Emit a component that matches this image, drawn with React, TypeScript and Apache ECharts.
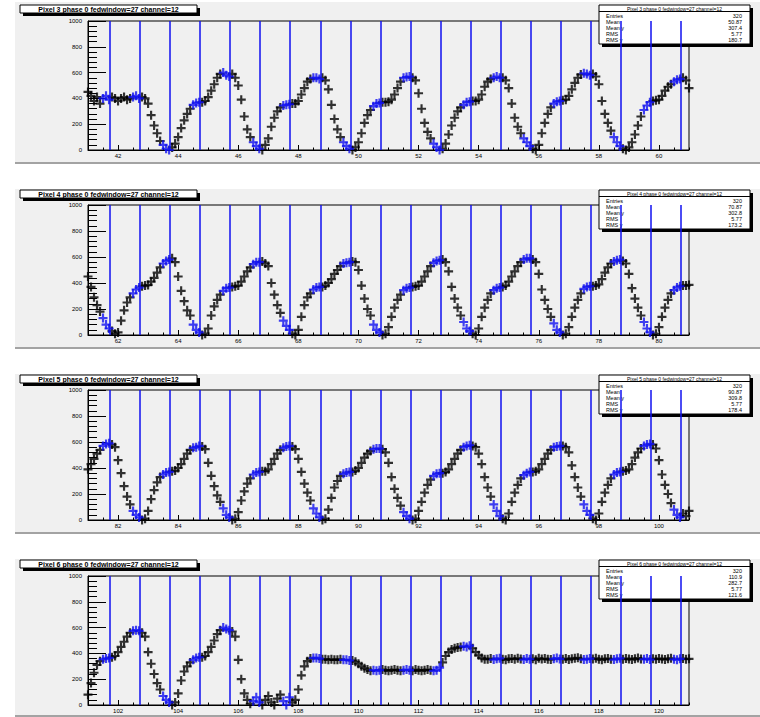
import React, { useEffect, useRef } from 'react';
import * as echarts from 'echarts';

// ---------- data ----------
const panelTitles = [
  'Pixel 3 phase 0 fedwindow=27 channel=12',
  'Pixel 4 phase 0 fedwindow=27 channel=12',
  'Pixel 5 phase 0 fedwindow=27 channel=12',
  'Pixel 6 phase 0 fedwindow=27 channel=12',
];
const xStart = [41, 61, 81, 101];
const xEnd = [61, 81, 101, 121];
const xStep = 0.1;

const xTickLabels1 = [42, 44, 46, 48, 50, 52, 54, 56, 58, 60];
const xTickLabels2 = [62, 64, 66, 68, 70, 72, 74, 76, 78, 80];
const xTickLabels3 = [82, 84, 86, 88, 90, 92, 94, 96, 98, 100];
const xTickLabels4 = [102, 104, 106, 108, 110, 112, 114, 116, 118, 120];

// offsets (from each panel's first x) of the blue vertical lines
const blueLineOffsets = [0.73, 1.73, 2.73, 3.73, 4.73, 5.73, 6.73, 7.73, 8.73, 9.73,
  10.73, 11.73, 12.73, 13.73, 14.73, 15.73, 16.73, 17.73, 18.73, 19.73];

// samples every 0.1 starting at xStart
const samples1 = [
  450, 420, 380, 410, 360, 400, 420, 390, 410, 400,
  380, 400, 410, 390, 400, 410, 420, 400, 410, 400,
  360, 270, 190, 130, 70, 40, 10, 0, 20, 50,
  100, 170, 230, 280, 320, 350, 365, 370, 370, 380,
  410, 460, 510, 560, 590, 600, 580, 570, 590, 560,
  500, 390, 260, 160, 100, 60, 30, 10, 0, 40,
  90, 180, 250, 300, 330, 345, 350, 355, 360, 360,
  380, 430, 480, 530, 550, 560, 560, 550, 560, 540,
  470, 350, 240, 160, 100, 60, 30, 10, 0, 20,
  60, 130, 210, 270, 310, 340, 360, 365, 370, 370,
  375, 390, 430, 480, 530, 560, 565, 570, 560, 540,
  440, 320, 210, 140, 90, 50, 20, 0, 10, 50,
  120, 190, 250, 300, 330, 350, 370, 375, 380, 380,
  390, 430, 490, 530, 550, 560, 570, 560, 560, 540,
  480, 360, 250, 180, 130, 90, 60, 30, 10, 0,
  40, 130, 210, 280, 330, 360, 375, 380, 385, 390,
  420, 470, 520, 560, 585, 595, 590, 580, 590, 570,
  510, 380, 280, 210, 150, 100, 60, 30, 10, 0,
  20, 60, 120, 190, 260, 310, 345, 370, 380, 385,
  390, 420, 460, 490, 510, 530, 545, 550, 560, 540,
  480,
];
const samples2 = [
  450, 370, 290, 230, 180, 130, 80, 50, 30, 10,
  20, 110, 190, 250, 290, 320, 350, 365, 375, 380,
  385, 410, 440, 480, 520, 550, 570, 580, 590, 560,
  450, 340, 260, 190, 150, 80, 40, 20, 0, 10,
  50, 150, 220, 270, 310, 340, 360, 365, 370, 375,
  380, 410, 450, 490, 520, 545, 560, 560, 565, 550,
  530, 400, 310, 230, 170, 110, 70, 40, 10, 0,
  40, 140, 230, 290, 320, 350, 365, 370, 370, 380,
  400, 430, 470, 500, 530, 550, 555, 560, 565, 560,
  500, 380, 280, 200, 150, 80, 40, 20, 0, 10,
  60, 140, 210, 270, 310, 345, 360, 365, 370, 375,
  380, 410, 450, 490, 530, 555, 570, 575, 580, 560,
  490, 370, 280, 210, 150, 100, 50, 30, 10, 0,
  50, 140, 210, 270, 320, 345, 360, 365, 370, 380,
  410, 450, 490, 530, 560, 580, 590, 590, 580, 560,
  470, 350, 270, 200, 140, 90, 40, 20, 0, 10,
  60, 140, 210, 270, 320, 355, 370, 375, 375, 380,
  390, 430, 480, 520, 550, 565, 575, 580, 570, 550,
  470, 360, 280, 210, 150, 100, 50, 20, 0, 10,
  60, 140, 210, 270, 320, 345, 365, 375, 380, 380,
  385,
];
const samples3 = [
  390, 430, 470, 510, 540, 570, 585, 590, 580, 560,
  460, 360, 260, 180, 120, 70, 40, 20, 0, 10,
  70, 160, 230, 290, 330, 350, 365, 370, 375, 380,
  400, 430, 470, 510, 540, 555, 560, 570, 565, 545,
  440, 340, 260, 190, 140, 90, 40, 20, 0, 10,
  60, 150, 220, 280, 320, 350, 365, 370, 375, 375,
  390, 430, 470, 510, 540, 555, 565, 570, 565, 545,
  470, 370, 280, 210, 150, 90, 50, 20, 0, 10,
  80, 170, 250, 300, 340, 355, 365, 370, 370, 380,
  400, 440, 480, 510, 530, 545, 550, 550, 545, 520,
  440, 330, 240, 170, 110, 60, 30, 10, 0, 10,
  70, 140, 210, 270, 310, 340, 355, 360, 360, 370,
  390, 430, 470, 510, 540, 560, 570, 575, 570, 560,
  510, 430, 330, 250, 180, 120, 70, 30, 10, 0,
  50, 140, 210, 270, 320, 345, 360, 370, 370, 375,
  390, 430, 470, 510, 540, 560, 565, 570, 570, 560,
  520, 420, 330, 250, 180, 120, 70, 40, 10, 0,
  50, 140, 210, 270, 320, 350, 365, 370, 375, 380,
  390, 430, 480, 520, 550, 570, 580, 585, 580, 550,
  460, 350, 270, 200, 130, 80, 40, 20, 50, 30,
  70,
];
const samples4 = [
  80, 170, 250, 310, 340, 355, 360, 365, 370, 380,
  410, 450, 490, 530, 560, 575, 580, 575, 560, 530,
  410, 320, 240, 170, 120, 70, 40, 20, 0, 20,
  90, 190, 260, 300, 330, 350, 365, 370, 370, 380,
  410, 450, 500, 550, 580, 600, 590, 580, 570, 530,
  350, 200, 90, 40, 10, 30, 60, 20, 0, 40,
  70, 20, 0, 50, 80, 30, 0, 60, 20, 40,
  120, 230, 300, 340, 360, 365, 365, 360, 355, 355,
  350, 355, 350, 350, 355, 350, 350, 345, 345, 335,
  320, 300, 285, 275, 265, 270, 265, 270, 275, 270,
  265, 270, 275, 270, 265, 270, 275, 270, 265, 275,
  270, 265, 270, 275, 270, 265, 270, 290, 330, 380,
  410, 430, 440, 445, 450, 455, 450, 460, 440, 410,
  385, 365, 355,
  355, 360, 352, 358, 362, 355, 350, 358, 360, 355,
  362, 357, 352, 360, 355, 358, 350, 362, 356, 360,
  355, 352, 358, 364, 357, 355, 360, 352, 358, 362,
  366, 358, 352, 355, 360, 357, 362, 355, 350, 358,
  360, 355, 352, 358, 362, 355, 360, 357, 352, 358,
  364, 356, 355, 360, 352, 358, 355, 360, 357, 352,
  358, 362, 355, 350, 358, 360, 355, 358,
];

const statEntries = ['320', '320', '320', '320'];
const statMean = ['50.87', '70.87', '90.87', '110.9'];
const statMeanY = ['307.4', '302.8', '309.8', '282.7'];
const statRms = ['5.77', '5.77', '5.77', '5.77'];
const statRmsY = ['180.7', '173.2', '178.4', '121.6'];

// ---------- layout ----------
const samples = [samples1, samples2, samples3, samples4];
const xTickLabels = [xTickLabels1, xTickLabels2, xTickLabels3, xTickLabels4];
const padTops = [2, 189, 374, 559];
const padBottoms = [164, 349, 534, 717];
const gridTops = [21, 205, 390, 576];
const gridHeights = [129, 130, 130, 129];
const boxTops = [5, 190, 375, 560];
const GRID_LEFT = 88;
const GRID_W = 601;
const FONT = '"Liberation Sans", Arial, sans-serif';
const PLUS = 'path://M-0.24,-1L0.24,-1L0.24,-0.24L1,-0.24L1,0.24L0.24,0.24L0.24,1L-0.24,1L-0.24,0.24L-1,0.24L-1,-0.24L-0.24,-0.24Z';
const BLUE = '#1010f0';

export default function App() {
  const ref = useRef<HTMLDivElement>(null);
  useEffect(() => {
    const chart = echarts.init(ref.current!, null, { renderer: 'svg' });
    const grids: any[] = [];
    const xAxes: any[] = [];
    const yAxes: any[] = [];
    const series: any[] = [];
    const graphics: any[] = [];

    for (let p = 0; p < 4; p++) {
      grids.push({
        left: GRID_LEFT, width: GRID_W, top: gridTops[p], height: gridHeights[p],
        show: true, borderColor: '#000', borderWidth: 1, backgroundColor: 'transparent',
      });
      const minorVals: number[] = [];
      for (let v = xStart[p]; v <= xEnd[p] + 1e-9; v += 0.5) minorVals.push(v);
      xAxes.push({
        type: 'value', gridIndex: p, min: xStart[p], max: xEnd[p], position: 'bottom',
        axisLine: { show: true, lineStyle: { color: '#000', width: 1 } },
        axisTick: { show: true, inside: true, length: 5, customValues: xTickLabels[p], lineStyle: { color: '#000' } },
        axisLabel: { show: true, customValues: xTickLabels[p], fontSize: 6, color: '#000', margin: 3, fontFamily: FONT },
        splitLine: { show: false },
      });
      xAxes.push({
        type: 'value', gridIndex: p, min: xStart[p], max: xEnd[p], position: 'bottom',
        axisLine: { show: false },
        axisTick: { show: true, inside: true, length: 2.5, customValues: minorVals, lineStyle: { color: '#000' } },
        axisLabel: { show: false },
        splitLine: { show: false },
      });
      yAxes.push({
        type: 'value', gridIndex: p, min: 0, max: 1000, interval: 200,
        axisLine: { show: true, lineStyle: { color: '#000', width: 1 } },
        axisTick: { show: true, inside: true, length: 18, lineStyle: { color: '#000', width: 1 } },
        minorTick: { show: true, splitNumber: 5, length: 9, lineStyle: { color: '#000', width: 1 } },
        axisLabel: { fontSize: 6, color: '#000', margin: 6, fontFamily: FONT, formatter: (v: number) => String(v) },
        splitLine: { show: false },
      });

      const lines = blueLineOffsets.map((o) => +(xStart[p] + o).toFixed(2));
      const black: number[][] = [];
      const blue: number[][] = [];
      samples[p].forEach((y, i) => {
        const x = +(xStart[p] + i * xStep).toFixed(2);
        const inWin = lines.some((l) => x >= l - 0.28 && x <= l + 0.03);
        (inWin ? blue : black).push([x, y]);
      });
      series.push({
        type: 'scatter', xAxisIndex: p * 2, yAxisIndex: p, data: black, symbol: PLUS, symbolSize: 9,
        itemStyle: { color: '#000' }, clip: false, silent: true, z: 2,
      });
      series.push({
        type: 'scatter', xAxisIndex: p * 2, yAxisIndex: p, data: blue, symbol: PLUS, symbolSize: 9,
        itemStyle: { color: BLUE }, clip: false, silent: true, z: 2,
      });
      series.push({
        type: 'line', xAxisIndex: p * 2, yAxisIndex: p, data: [], z: 4, silent: true,
        markLine: {
          silent: true, symbol: 'none', animation: false,
          label: { show: false },
          lineStyle: { color: BLUE, width: 1.5, type: 'solid' },
          data: lines.map((l) => ({ xAxis: l })),
        },
      });

      // pad background
      graphics.push({
        type: 'rect', z: -10,
        shape: { x: 15, y: padTops[p], width: 745, height: padBottoms[p] - padTops[p] },
        style: { fill: '#f0f0f0' },
      });
      graphics.push({
        type: 'line', z: -9,
        shape: { x1: 15, y1: padBottoms[p] - 1, x2: 760, y2: padBottoms[p] - 1 },
        style: { stroke: '#8a8a8a', lineWidth: 1.5 },
      });
      // title box
      const bt = boxTops[p];
      graphics.push({ type: 'rect', z: 10, shape: { x: 23, y: bt + 3, width: 177, height: 8 }, style: { fill: '#000' } });
      graphics.push({ type: 'rect', z: 11, shape: { x: 20, y: bt, width: 177, height: 8 }, style: { fill: '#fff', stroke: '#000', lineWidth: 1 } });
      graphics.push({
        type: 'text', z: 12,
        style: { text: panelTitles[p], x: 108.5, y: bt + 4.3, align: 'center', verticalAlign: 'middle', fill: '#000', font: `bold 7px ${FONT}` },
      });
      // stats box
      graphics.push({ type: 'rect', z: 1, shape: { x: 602, y: bt + 3, width: 151, height: 39 }, style: { fill: '#000' } });
      graphics.push({ type: 'rect', z: 1, shape: { x: 599, y: bt, width: 151, height: 39 }, style: { fill: '#fff', stroke: '#000', lineWidth: 1 } });
      graphics.push({ type: 'line', z: 1, shape: { x1: 599, y1: bt + 6.5, x2: 750, y2: bt + 6.5 }, style: { stroke: '#000', lineWidth: 1 } });
      graphics.push({
        type: 'text', z: 1,
        style: { text: panelTitles[p], x: 674.5, y: bt + 3.5, align: 'center', verticalAlign: 'middle', fill: '#000', font: `5px ${FONT}` },
      });
      const labels = ['Entries', 'Mean', 'Mean y', 'RMS', 'RMS y'];
      const vals = [statEntries[p], statMean[p], statMeanY[p], statRms[p], statRmsY[p]];
      labels.forEach((lab, i) => {
        const yy = bt + 10.5 + i * 6.2;
        graphics.push({ type: 'text', z: 1, style: { text: lab, x: 606, y: yy, align: 'left', verticalAlign: 'middle', fill: '#000', font: `5.5px ${FONT}` } });
        graphics.push({ type: 'text', z: 1, style: { text: vals[i], x: 742, y: yy, align: 'right', verticalAlign: 'middle', fill: '#000', font: `5.5px ${FONT}` } });
      });
    }

    chart.setOption({
      animation: false,
      backgroundColor: '#ffffff',
      grid: grids,
      xAxis: xAxes,
      yAxis: yAxes,
      series,
      graphic: { elements: graphics },
    });
    return () => chart.dispose();
  }, []);
  return <div ref={ref} style={{ position: 'absolute', left: 0, top: 0, width: 760, height: 717 }} />;
}
